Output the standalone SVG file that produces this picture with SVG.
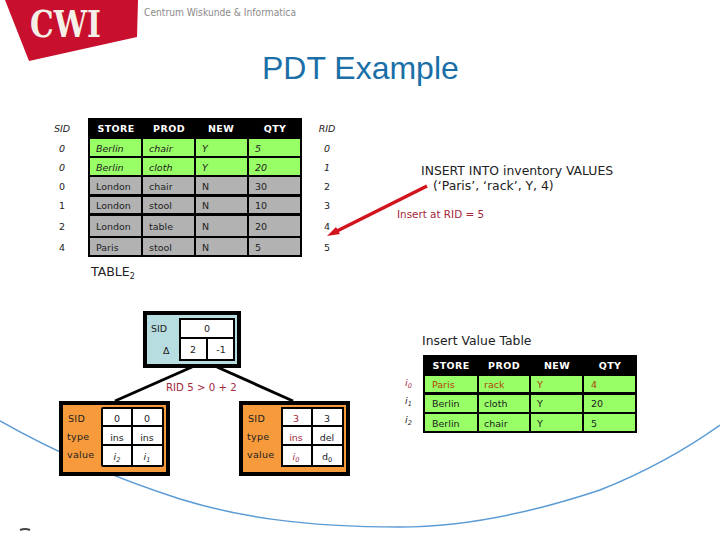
<svg xmlns="http://www.w3.org/2000/svg" width="720" height="540" viewBox="0 0 720 540">
<style>
text{font-family:"DejaVu Sans","Liberation Sans",sans-serif;font-size:9.5px;fill:#222}
.h{font-weight:bold;fill:#fff;text-anchor:middle;letter-spacing:.4px}
.i{font-style:italic}
.c{text-anchor:middle}
.big{font-size:12.4px}
.r{fill:#a3283a}
.g{fill:#99ff66}
.k{fill:#b2b2b2}
.w{fill:#fff}
.n{stroke:#000;stroke-width:4;fill:#f79a3c}
.t{fill:#fff;stroke:#000;stroke-width:2}
.l{stroke:#000;stroke-width:2}
.s{font-size:6.5px}
</style>
<rect width="720" height="540" fill="#fff"/>
<path d="M0 421C60 455 120 480 180 499C235 516 300 527 400 527C470 527 540 510 600 490C640 474 685 450 720 425" fill="none" stroke="#5b9bd5" stroke-width="1.5"/>
<path d="M20 530Q25 528 30 530" fill="none" stroke="#444" stroke-width="2"/>
<g id="logo">
<polygon points="5,0 138,0 137,37 29,61" fill="#c8102e"/>
<text x="30" y="37" textLength="71" lengthAdjust="spacingAndGlyphs" style="font-family:'DejaVu Serif',serif;font-size:37px;font-weight:bold;fill:#f4f0e8">CWI</text>
<text x="144" y="16" textLength="152" lengthAdjust="spacingAndGlyphs" style="font-size:10.5px;fill:#8a8a8a">Centrum Wiskunde &amp; Informatica</text>
</g>
<text id="title" x="262" y="79" style="font-family:'Liberation Sans',sans-serif;font-size:32px;fill:#1a6fa8">PDT Example</text>
<g id="table1">
<rect x="88" y="118" width="214" height="139" fill="#000"/>
<g class="g"><rect x="90" y="139" width="51" height="17"/><rect x="143" y="139" width="51" height="17"/><rect x="196" y="139" width="51" height="17"/><rect x="249" y="139" width="51" height="17"/>
<rect x="90" y="158" width="51" height="17"/><rect x="143" y="158" width="51" height="17"/><rect x="196" y="158" width="51" height="17"/><rect x="249" y="158" width="51" height="17"/></g>
<g class="k"><rect x="90" y="177" width="51" height="17"/><rect x="143" y="177" width="51" height="17"/><rect x="196" y="177" width="51" height="17"/><rect x="249" y="177" width="51" height="17"/>
<rect x="90" y="197" width="51" height="16"/><rect x="143" y="197" width="51" height="16"/><rect x="196" y="197" width="51" height="16"/><rect x="249" y="197" width="51" height="16"/>
<rect x="90" y="216" width="51" height="20"/><rect x="143" y="216" width="51" height="20"/><rect x="196" y="216" width="51" height="20"/><rect x="249" y="216" width="51" height="20"/>
<rect x="90" y="238" width="51" height="17"/><rect x="143" y="238" width="51" height="17"/><rect x="196" y="238" width="51" height="17"/><rect x="249" y="238" width="51" height="17"/></g>
<text class="h" x="116" y="132">STORE</text><text class="h" x="169" y="132">PROD</text><text class="h" x="221" y="132">NEW</text><text class="h" x="275" y="132">QTY</text>
<g class="i"><text x="96" y="152">Berlin</text><text x="149" y="152">chair</text><text x="202" y="152">Y</text><text x="255" y="152">5</text>
<text x="96" y="171">Berlin</text><text x="149" y="171">cloth</text><text x="202" y="171">Y</text><text x="255" y="171">20</text></g>
<text x="96" y="190">London</text><text x="149" y="190">chair</text><text x="202" y="190">N</text><text x="255" y="190">30</text>
<text x="96" y="209">London</text><text x="149" y="209">stool</text><text x="202" y="209">N</text><text x="255" y="209">10</text>
<text x="96" y="230">London</text><text x="149" y="230">table</text><text x="202" y="230">N</text><text x="255" y="230">20</text>
<text x="96" y="251">Paris</text><text x="149" y="251">stool</text><text x="202" y="251">N</text><text x="255" y="251">5</text>
<g class="c"><text class="i" x="62" y="132">SID</text><text class="i" x="62" y="152">0</text><text class="i" x="62" y="171">0</text><text x="62" y="190">0</text><text x="62" y="209">1</text><text x="62" y="230">2</text><text x="62" y="251">4</text>
<text class="i" x="327" y="132">RID</text><text class="i" x="327" y="152">0</text><text class="i" x="327" y="171">1</text><text x="327" y="190">2</text><text x="327" y="209">3</text><text x="327" y="230">4</text><text x="327" y="251">5</text></g>
<text x="91" y="276" style="font-size:12.5px">TABLE<tspan dy="3" style="font-size:8px">2</tspan></text>
</g>
<g id="sql">
<text class="big" x="421" y="175">INSERT INTO inventory VALUES</text>
<text class="big" x="433" y="190">(‘Paris’, ‘rack’, Y, 4)</text>
<text class="r" x="397" y="218" style="font-size:10.4px">Insert at RID = 5</text>
</g>
<g id="connectors">
<line x1="427" y1="186" x2="333" y2="233" stroke="#d3141e" stroke-width="3.5"/>
<polygon points="327,236 336,227 340,234" fill="#d3141e"/>
<line x1="192" y1="367" x2="115" y2="401" stroke="#000" stroke-width="3"/>
<line x1="217" y1="367" x2="293" y2="401" stroke="#000" stroke-width="3"/>
</g>
<text class="r" x="166" y="391" style="font-size:10.2px">RID 5 &gt; 0 + 2</text>
<g id="root">
<rect x="145" y="313" width="94" height="53" fill="#b7dde0" stroke="#000" stroke-width="4"/>
<rect class="t" x="180" y="319" width="54" height="41"/>
<line class="l" x1="180" y1="338" x2="234" y2="338"/><line class="l" x1="207" y1="338" x2="207" y2="360"/>
<text x="151" y="332">SID</text><text x="163" y="354">Δ</text><text class="c" x="207" y="332">0</text><text class="c" x="193" y="353">2</text><text class="c" x="221" y="353">-1</text>
</g>
<g id="leaf-left">
<rect class="n" x="61" y="403" width="107" height="71"/>
<rect class="t" x="102" y="408" width="61" height="58" rx="1"/>
<line class="l" x1="132" y1="408" x2="132" y2="466"/><line class="l" x1="102" y1="426" x2="163" y2="426"/><line class="l" x1="102" y1="445" x2="163" y2="445"/>
<g style="letter-spacing:.3px"><text x="68" y="422">SID</text><text x="67" y="440">type</text><text x="67" y="458">value</text></g>
<g class="c"><text x="117" y="422">0</text><text x="147" y="422">0</text><text x="117" y="441">ins</text><text x="147" y="441">ins</text>
<text class="i" x="117" y="460">i<tspan class="s" dy="2">2</tspan></text><text class="i" x="147" y="460">i<tspan class="s" dy="2">1</tspan></text></g>
</g>
<g id="leaf-right">
<rect class="n" x="241" y="403" width="107" height="71"/>
<rect class="t" x="282" y="408" width="61" height="58"/>
<line class="l" x1="312" y1="408" x2="312" y2="466"/><line class="l" x1="282" y1="426" x2="343" y2="426"/><line class="l" x1="282" y1="445" x2="343" y2="445"/>
<g style="letter-spacing:.3px"><text x="248" y="422">SID</text><text x="247" y="440">type</text><text x="247" y="458">value</text></g>
<g class="c"><text class="r" x="296" y="422">3</text><text x="327" y="422">3</text><text class="r" x="296" y="441">ins</text><text x="327" y="441">del</text>
<text class="i r" x="296" y="460">i<tspan class="s" dy="2">0</tspan></text><text x="327" y="460">d<tspan class="s" dy="2">0</tspan></text></g>
</g>
<g id="table2">
<text class="big" x="422" y="345">Insert Value Table</text>
<rect x="423" y="355" width="214" height="78" fill="#000"/>
<g class="g"><rect x="425" y="376" width="52" height="16"/><rect x="479" y="376" width="50" height="16"/><rect x="531" y="376" width="51" height="16"/><rect x="584" y="376" width="51" height="16"/>
<rect x="425" y="395" width="52" height="17"/><rect x="479" y="395" width="50" height="17"/><rect x="531" y="395" width="51" height="17"/><rect x="584" y="395" width="51" height="17"/>
<rect x="425" y="414" width="52" height="17"/><rect x="479" y="414" width="50" height="17"/><rect x="531" y="414" width="51" height="17"/><rect x="584" y="414" width="51" height="17"/></g>
<text class="h" x="451" y="369">STORE</text><text class="h" x="504" y="369">PROD</text><text class="h" x="557" y="369">NEW</text><text class="h" x="610" y="369">QTY</text>
<text x="432" y="388" style="fill:#b0420a">Paris</text><text x="484" y="388" style="fill:#b0420a">rack</text><text x="537" y="388" style="fill:#b0420a">Y</text><text x="591" y="388" style="fill:#b0420a">4</text>
<text x="432" y="407">Berlin</text><text x="484" y="407">cloth</text><text x="537" y="407">Y</text><text x="591" y="407">20</text>
<text x="432" y="427">Berlin</text><text x="484" y="427">chair</text><text x="537" y="427">Y</text><text x="591" y="427">5</text>
<text class="i r" x="405" y="386">i<tspan class="s" dy="2">0</tspan></text><text class="i" x="405" y="404">i<tspan class="s" dy="2">1</tspan></text><text class="i" x="405" y="423">i<tspan class="s" dy="2">2</tspan></text>
</g>
</svg>
